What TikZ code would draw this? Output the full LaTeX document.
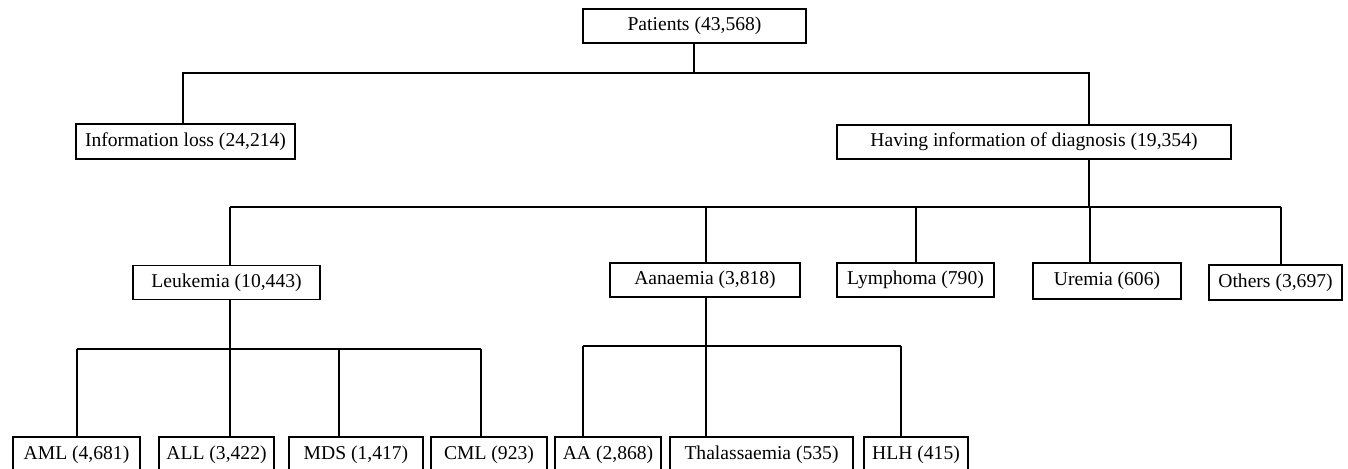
\documentclass[tikz,border=0pt]{standalone}
\usepackage{fontspec}
\setmainfont{Liberation Serif}

\begin{document}
\begin{tikzpicture}[x=0.5pt, y=-0.5pt,
  box/.style={draw, line width=0.6pt, inner xsep=2pt, minimum height=17pt, font=\fontsize{9.8}{12}\selectfont},
  link/.style={draw, line width=0.6pt}]
\useasboundingbox (0,0) rectangle (1348,469);

\node[box, minimum width=111.5pt] (pat) at (694.5,26) {Patients (43,568)};

\node[box, minimum width=109.5pt, minimum height=17.5pt] (loss) at (185.5,141.5) {Information loss (24,214)};
\node[box, minimum width=197pt] (hav) at (1034,142) {Having information of diagnosis (19,354)};

\node[box, minimum width=93.5pt] (leu) at (226.5,282.5) {Leukemia (10,443)};
\node[box, minimum width=95pt] (ana) at (705,280) {Aanaemia (3,818)};
\node[box, minimum width=78.5pt] (lym) at (915.5,280) {Lymphoma (790)};
\node[box, minimum width=74pt, minimum height=18pt] (ure) at (1107,281) {Uremia (606)};
\node[box, minimum width=66.5pt, minimum height=17.5pt] (oth) at (1275.5,282.5) {Others (3,697)};

\node[box, minimum width=63.5pt, minimum height=17.5pt] (aml) at (76.5,454.5) {AML (4,681)};
\node[box, minimum width=57.5pt, minimum height=17.5pt] (all) at (216.5,454.5) {ALL (3,422)};
\node[box, minimum width=67pt, minimum height=17.5pt] (mds) at (356,454.5) {MDS (1,417)};
\node[box, minimum width=58pt, minimum height=17.5pt] (cml) at (489,454.5) {CML (923)};
\node[box, minimum width=53pt, minimum height=17.5pt] (aa) at (608,454.5) {AA (2,868)};
\node[box, minimum width=91.5pt, minimum height=17.5pt] (tha) at (761.5,454.5) {Thalassaemia (535)};
\node[box, minimum width=52pt, minimum height=17.5pt] (hlh) at (916,454.5) {HLH (415)};

% first split
\coordinate (p0) at (694,73);
\coordinate (p1) at (183,73);
\coordinate (p2) at (1089,73);
\path[link] (pat.south -| p0) -- (p0);
\path[link] (loss.north -| p1) -- (p1) -- (p2) -- (hav.north -| p2);

% diagnosis
\coordinate (h0) at (1089,207);
\coordinate (h1) at (230,207);
\coordinate (h2) at (706,207);
\coordinate (h3) at (916,207);
\coordinate (h4) at (1090,207);
\coordinate (h5) at (1281,207);
\path[link] (hav.south -| h0) -- (h0);
\path[link] (h1) -- (h5);
\path[link] (h1) -- (leu.north -| h1);
\path[link] (h2) -- (ana.north -| h2);
\path[link] (h3) -- (lym.north -| h3);
\path[link] (h4) -- (ure.north -| h4);
\path[link] (h5) -- (oth.north -| h5);

% leukemia
\coordinate (l0) at (230,349);
\coordinate (l1) at (77,349);
\coordinate (l2) at (230,349);
\coordinate (l3) at (339,349);
\coordinate (l4) at (481,349);
\path[link] (leu.south -| l0) -- (l0);
\path[link] (l1) -- (l4);
\path[link] (l1) -- (aml.north -| l1);
\path[link] (l2) -- (all.north -| l2);
\path[link] (l3) -- (mds.north -| l3);
\path[link] (l4) -- (cml.north -| l4);

% anaemia
\coordinate (a0) at (706,346);
\coordinate (a1) at (583,346);
\coordinate (a2) at (706,346);
\coordinate (a3) at (901,346);
\path[link] (ana.south -| a0) -- (a0);
\path[link] (a1) -- (a3);
\path[link] (a1) -- (aa.north -| a1);
\path[link] (a2) -- (tha.north -| a2);
\path[link] (a3) -- (hlh.north -| a3);
\end{tikzpicture}
\end{document}
